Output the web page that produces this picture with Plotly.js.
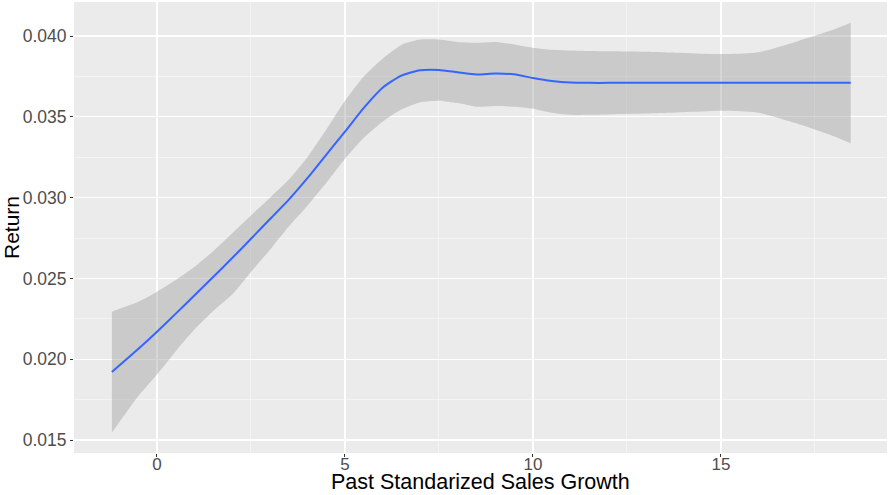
<!DOCTYPE html>
<html>
<head>
<meta charset="utf-8">
<script src="https://cdn.plot.ly/plotly-3.0.1.min.js"></script>
<style>html,body{margin:0;padding:0;background:#fff;}#chart{width:889px;height:495px;}</style>
</head>
<body>
<div id="chart"></div>
<script>
const xVals = [-1.2, -0.5, 0, 0.5, 1, 1.5, 2, 2.5, 3, 3.5, 4, 4.5, 5, 5.5, 6, 6.5, 7, 7.5, 8, 8.5, 9, 9.5, 10, 10.5, 11, 11.5, 12, 13, 14, 15, 16, 17, 18, 18.45];
const fitVals = [0.01921, 0.02063, 0.02170, 0.02282, 0.02396, 0.02510, 0.02626, 0.02745, 0.02866, 0.02986, 0.03120, 0.03265, 0.03408, 0.03555, 0.03680, 0.03755, 0.03788, 0.03790, 0.03775, 0.03762, 0.03768, 0.03763, 0.03740, 0.03722, 0.03712, 0.03710, 0.03710, 0.03710, 0.03710, 0.03710, 0.03710, 0.03710, 0.03710, 0.03710];
const upperVals = [0.02294, 0.02355, 0.02418, 0.02490, 0.02572, 0.02670, 0.02780, 0.02890, 0.02998, 0.03110, 0.03250, 0.03420, 0.03600, 0.03750, 0.03860, 0.03945, 0.03978, 0.03978, 0.03963, 0.03958, 0.03963, 0.03948, 0.03928, 0.03915, 0.03910, 0.03907, 0.03905, 0.03902, 0.03895, 0.03888, 0.03900, 0.03965, 0.04040, 0.04082];
const lowerVals = [0.01545, 0.01770, 0.01905, 0.02050, 0.02185, 0.02300, 0.02400, 0.02540, 0.02676, 0.02820, 0.02950, 0.03090, 0.03240, 0.03370, 0.03470, 0.03545, 0.03590, 0.03600, 0.03585, 0.03562, 0.03567, 0.03562, 0.03550, 0.03525, 0.03512, 0.03513, 0.03515, 0.03520, 0.03528, 0.03537, 0.03525, 0.03460, 0.03380, 0.03336];
const xTickVals = [0, 5, 10, 15];
const yTickVals = [0.015, 0.020, 0.025, 0.030, 0.035, 0.040];
const xTitle = 'Past Standarized Sales Growth';
const yTitle = 'Return';

const traces = [
  {x: xVals, y: lowerVals, type: 'scatter', mode: 'lines', line: {width: 0, shape: 'spline', smoothing: 0.6}, hoverinfo: 'skip', showlegend: false},
  {x: xVals, y: upperVals, type: 'scatter', mode: 'lines', fill: 'tonexty', fillcolor: 'rgba(153,153,153,0.4)', line: {width: 0, shape: 'spline', smoothing: 0.6}, hoverinfo: 'skip', showlegend: false},
  {x: xVals, y: fitVals, type: 'scatter', mode: 'lines', line: {color: '#3366FF', width: 2, shape: 'spline', smoothing: 0.6}, showlegend: false}
];

const layout = {
  width: 889, height: 495,
  margin: {l: 74, r: 2, t: 2, b: 42},
  paper_bgcolor: '#FFFFFF',
  plot_bgcolor: '#EBEBEB',
  font: {family: 'Liberation Sans, Arial, sans-serif'},
  showlegend: false,
  xaxis: {
    range: [-2.207, 19.415],
    tickvals: xTickVals,
    ticktext: xTickVals.map(String),
    showgrid: true, gridcolor: '#FFFFFF', gridwidth: 1.2,
    minor: {dtick: 2.5, tick0: 0, showgrid: true, gridcolor: 'rgba(255,255,255,0.55)', gridwidth: 0.8, ticks: ''},
    zeroline: false, showline: false,
    ticks: 'outside', ticklen: 3, tickcolor: '#333333', tickwidth: 1,
    ticklabelstandoff: -7,
    tickfont: {size: 17, color: '#4D4D4D'},
    automargin: false
  },
  yaxis: {
    range: [0.014196, 0.042104],
    tickvals: yTickVals,
    ticktext: yTickVals.map(v => v.toFixed(3)),
    showgrid: true, gridcolor: '#FFFFFF', gridwidth: 1.2,
    minor: {dtick: 0.0025, tick0: 0.0125, showgrid: true, gridcolor: 'rgba(255,255,255,0.55)', gridwidth: 0.8, ticks: ''},
    zeroline: false, showline: false,
    ticks: 'outside', ticklen: 3, tickcolor: '#333333', tickwidth: 1,
    tickfont: {size: 17.5, color: '#4D4D4D'},
    automargin: false,
    title: {text: yTitle, font: {size: 21, color: '#000000'}, standoff: 6}
  },
  annotations: [
    {text: xTitle, xref: 'paper', yref: 'paper', x: 0.5, y: -42 / 451, xanchor: 'center', yanchor: 'bottom',
     borderpad: 0, showarrow: false, font: {size: 21.5, color: '#000000'}}
  ]
};

Plotly.newPlot('chart', traces, layout, {displayModeBar: false, staticPlot: true});
</script>
</body>
</html>
